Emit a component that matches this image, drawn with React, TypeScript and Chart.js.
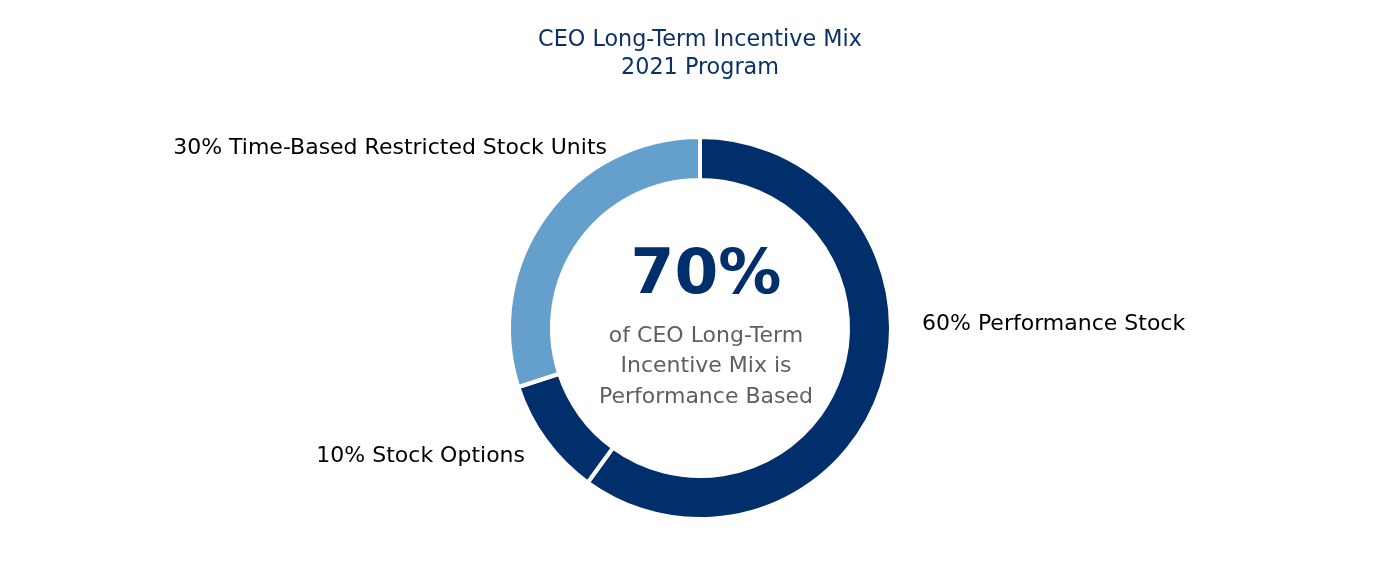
import React, { useEffect, useRef } from "react";
import { Chart, registerables } from "chart.js";

Chart.register(...registerables);

const categories = ["60% Performance Stock", "10% Stock Options", "30% Time-Based Restricted Stock Units"];
const shares = [60, 10, 30];
const sliceColors = ["#002f6c", "#002f6c", "#659fcb"];
const titleLines = ["CEO Long-Term Incentive Mix", "2021 Program"];
const centerBig = "70%";
const centerLines = ["of CEO Long-Term", "Incentive Mix is", "Performance Based"];

const FONT = "'DejaVu Sans', sans-serif";

export default function App() {
  const ref = useRef<HTMLCanvasElement | null>(null);
  useEffect(() => {
    if (!ref.current) return;
    const textPlugin = {
      id: "texts",
      afterDraw(chart: any) {
        const ctx = chart.ctx;
        const meta = chart.getDatasetMeta(0);
        const arc = meta.data[0] as any;
        const cx = arc.x;
        const cy = arc.y;
        ctx.save();
        // title
        ctx.fillStyle = "#0b3268";
        ctx.font = `22.3px ${FONT}`;
        ctx.textAlign = "center";
        ctx.textBaseline = "middle";
        titleLines.forEach((t, i) => ctx.fillText(t, chart.width / 2, 40 + i * 28));
        // center
        ctx.fillStyle = "#002f6c";
        ctx.font = `bold 63px ${FONT}`;
        ctx.fillText(centerBig, cx + 6, cy - 51);
        ctx.fillStyle = "#5f5f5f";
        ctx.font = `22px ${FONT}`;
        centerLines.forEach((t, i) => ctx.fillText(t, cx + 6, cy + 8 + i * 30.5));
        // slice labels
        ctx.fillStyle = "#000000";
        ctx.font = `22px ${FONT}`;
        const offs = [
          { dx: 222, dy: -4, align: "left" },
          { dx: -175, dy: 128, align: "right" },
          { dx: -93, dy: -180, align: "right" },
        ];
        categories.forEach((c, i) => {
          ctx.textAlign = offs[i].align;
          ctx.fillText(c, cx + offs[i].dx, cy + offs[i].dy);
        });
        ctx.restore();
      },
    };
    const chart = new Chart(ref.current, {
      type: "doughnut",
      data: {
        labels: categories,
        datasets: [
          {
            data: shares,
            backgroundColor: sliceColors,
            borderColor: "#ffffff",
            borderWidth: 4,
            hoverOffset: 0,
          },
        ],
      },
      options: {
        animation: false,
        responsive: false,
        cutout: "77.5%",
        layout: { padding: { top: 135, bottom: 49, left: 0, right: 0 } },
        plugins: {
          legend: { display: false },
          tooltip: { enabled: false },
          title: { display: false },
        },
      },
      plugins: [textPlugin],
    });
    return () => chart.destroy();
  }, []);
  return (
    <div style={{ position: "absolute", left: 0, top: 0, width: 1400, height: 570, background: "#fff" }}>
      <canvas ref={ref} width={1400} height={570} style={{ display: "block" }} />
    </div>
  );
}
